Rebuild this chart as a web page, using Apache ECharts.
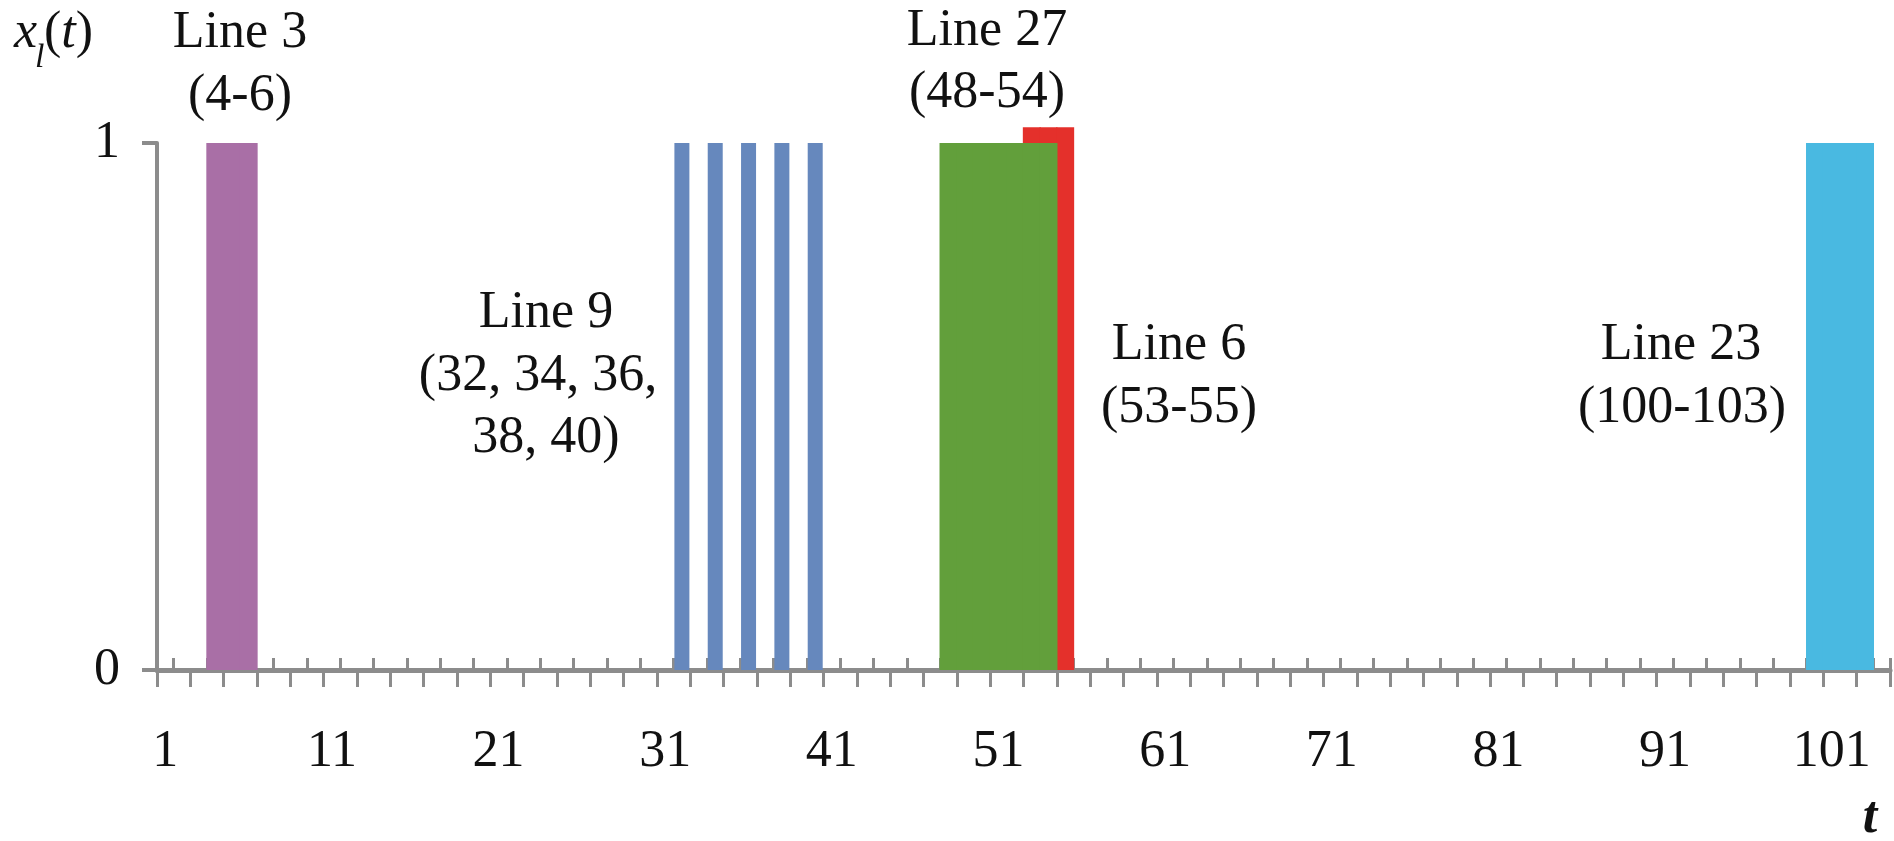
<!DOCTYPE html>
<html><head><meta charset="utf-8">
<script src="https://cdn.jsdelivr.net/npm/echarts@6/dist/echarts.min.js"></script>
<style>html,body{margin:0;padding:0;background:#fff}#c{width:1894px;height:841px}</style>
</head><body><div id="c"></div>
<script>
// ---- data ----
const timeSteps = [];
for (let i = 1; i <= 104; i++) timeSteps.push(String(i));
const line3Active  = [4, 5, 6];
const line9Active  = [32, 34, 36, 38, 40];
const line6Active  = [53, 54, 55];
const line27Active = [48, 49, 50, 51, 52, 53, 54];
const line23Active = [100, 101, 102, 103];
const onLevel = 1;
const line6Level = 1.03;   // red bar drawn slightly taller in the source
const yTicks = [0, 1];

const FONT = "'Liberation Serif','Times New Roman',serif";
const AXIS = '#8c8c8c';

function toSeries(active, level) {
  return timeSteps.map(t => active.indexOf(Number(t)) >= 0 ? level : '-');
}
function bar(name, active, level, color, axisIdx, width) {
  return {
    name: name, type: 'bar', xAxisIndex: axisIdx, yAxisIndex: 0,
    data: toSeries(active, level),
    barGap: '-100%', barWidth: width, clip: false,
    itemStyle: { color: color },
    emphasis: { disabled: true }, silent: true
  };
}
function txt(s, cx, cy, extra) {
  return Object.assign({
    type: 'text', x: cx, y: cy, silent: true,
    style: { text: s, font: '52px ' + FONT, fill: '#111', align: 'center', verticalAlign: 'middle' }
  }, extra || {});
}

const chart = echarts.init(document.getElementById('c'), null, { renderer: 'canvas' });
chart.setOption({
  backgroundColor: '#ffffff',
  animation: false,
  grid: { left: 157, right: 4, top: 143, bottom: 171, containLabel: false },
  xAxis: [
    {
      type: 'category', data: timeSteps, position: 'bottom', boundaryGap: true,
      axisLine: { show: true, lineStyle: { color: AXIS, width: 5 } },
      axisTick: { show: true, inside: false, length: 17, interval: function (i) { return i % 2 === 0; },
                  lineStyle: { color: AXIS, width: 3 } },
      axisLabel: { show: true, interval: 9, margin: 56, fontFamily: FONT, fontSize: 52, lineHeight: 52, color: '#111' },
      splitLine: { show: false }
    },
    {
      type: 'category', data: timeSteps, position: 'bottom', boundaryGap: true,
      axisLine: { show: false },
      axisTick: { show: true, inside: true, length: 12, interval: function (i) { return i % 2 === 1; },
                  lineStyle: { color: AXIS, width: 3 } },
      axisLabel: { show: false },
      splitLine: { show: false }
    }
  ],
  yAxis: {
    type: 'value', min: yTicks[0], max: yTicks[1], interval: 1,
    axisLine: { show: true, lineStyle: { color: AXIS, width: 4 } },
    axisTick: { show: true, inside: false, length: 15, lineStyle: { color: AXIS, width: 4 } },
    axisLabel: { show: true, margin: 37, fontFamily: FONT, fontSize: 52, color: '#111' },
    splitLine: { show: false }
  },
  series: [
    bar('Line 3', line3Active, onLevel, '#a96fa6', 0, 18),
    bar('Line 6', line6Active, line6Level, '#e4302b', 0, 18),
    bar('Line 27', line27Active, onLevel, '#629f3b', 0, 18),
    bar('Line 23', line23Active, onLevel, '#49b9e1', 0, 18),
    bar('Line 9', line9Active, onLevel, '#6688bd', 1, '90%')
  ],
  graphic: [
    txt('Line 3', 240, 33), txt('(4-6)', 240, 96),
    txt('Line 9', 546, 313), txt('(32, 34, 36,', 538, 376), txt('38, 40)', 546, 438),
    txt('Line 27', 987, 31), txt('(48-54)', 987, 93),
    txt('Line 6', 1179, 345), txt('(53-55)', 1179, 408),
    txt('Line 23', 1681, 345), txt('(100-103)', 1682, 408),
    { type: 'text', x: 14, y: 33, silent: true,
      style: { text: 'x', font: 'italic 52px ' + FONT, fill: '#111', align: 'left', verticalAlign: 'middle' } },
    { type: 'text', x: 35, y: 58, silent: true,
      style: { text: 'l', font: 'italic 34px ' + FONT, fill: '#111', align: 'left', verticalAlign: 'middle' } },
    { type: 'text', x: 44, y: 33, silent: true,
      style: { text: '{p|(}{t|t}{p|)}', align: 'left', verticalAlign: 'middle',
        rich: { p: { font: '52px ' + FONT, fill: '#111' }, t: { font: 'italic 52px ' + FONT, fill: '#111' } } } },
    { type: 'text', x: 1870, y: 819, silent: true,
      style: { text: 't', font: 'italic bold 52px ' + FONT, fill: '#111', align: 'center', verticalAlign: 'middle' } }
  ]
});
</script></body></html>
